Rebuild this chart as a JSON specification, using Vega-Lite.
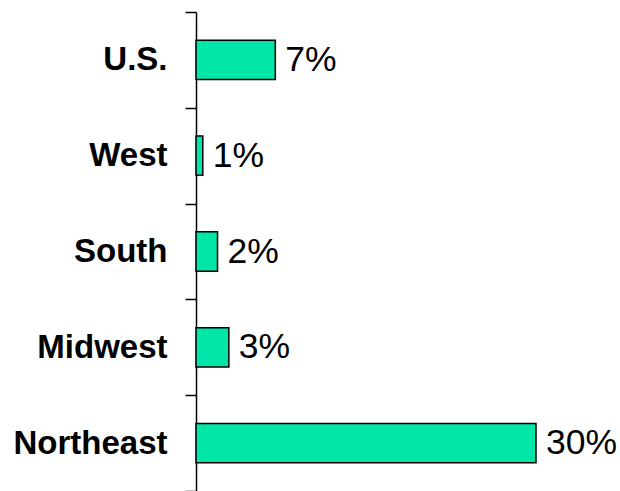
{
  "$schema": "https://vega.github.io/schema/vega-lite/v6.json",
  "width": 340,
  "height": 479,
  "autosize": {"type": "none"},
  "padding": {"left": 196, "top": 12, "right": 84, "bottom": 0},
  "background": "white",
  "config": {"view": {"stroke": null}},
  "data": {
    "values": [
      {"region": "U.S.", "value": 7.0, "label": "7%"},
      {"region": "West", "value": 0.6, "label": "1%"},
      {"region": "South", "value": 1.9, "label": "2%"},
      {"region": "Midwest", "value": 2.9, "label": "3%"},
      {"region": "Northeast", "value": 30.0, "label": "30%"}
    ]
  },
  "encoding": {
    "y": {
      "field": "region",
      "type": "nominal",
      "sort": null,
      "scale": {"paddingInner": 0, "paddingOuter": 0},
      "axis": {
        "title": null,
        "tickBand": "extent",
        "domainColor": "black",
        "domainWidth": 1.5,
        "tickColor": "black",
        "tickWidth": 1.5,
        "tickSize": 11,
        "labelFont": "Liberation Sans",
        "labelFontWeight": "bold",
        "labelFontSize": 33,
        "labelColor": "black",
        "labelPadding": 18
      }
    },
    "x": {
      "field": "value",
      "type": "quantitative",
      "scale": {"domain": [0, 30], "nice": false},
      "axis": null
    }
  },
  "layer": [
    {
      "mark": {"type": "bar", "height": {"band": 0.41}, "fill": "#00E5A8", "stroke": "black", "strokeWidth": 1.5}
    },
    {
      "mark": {"type": "text", "align": "left", "baseline": "middle", "dx": 10, "font": "Liberation Sans", "fontSize": 35.5, "color": "black"},
      "encoding": {"text": {"field": "label"}}
    }
  ]
}
